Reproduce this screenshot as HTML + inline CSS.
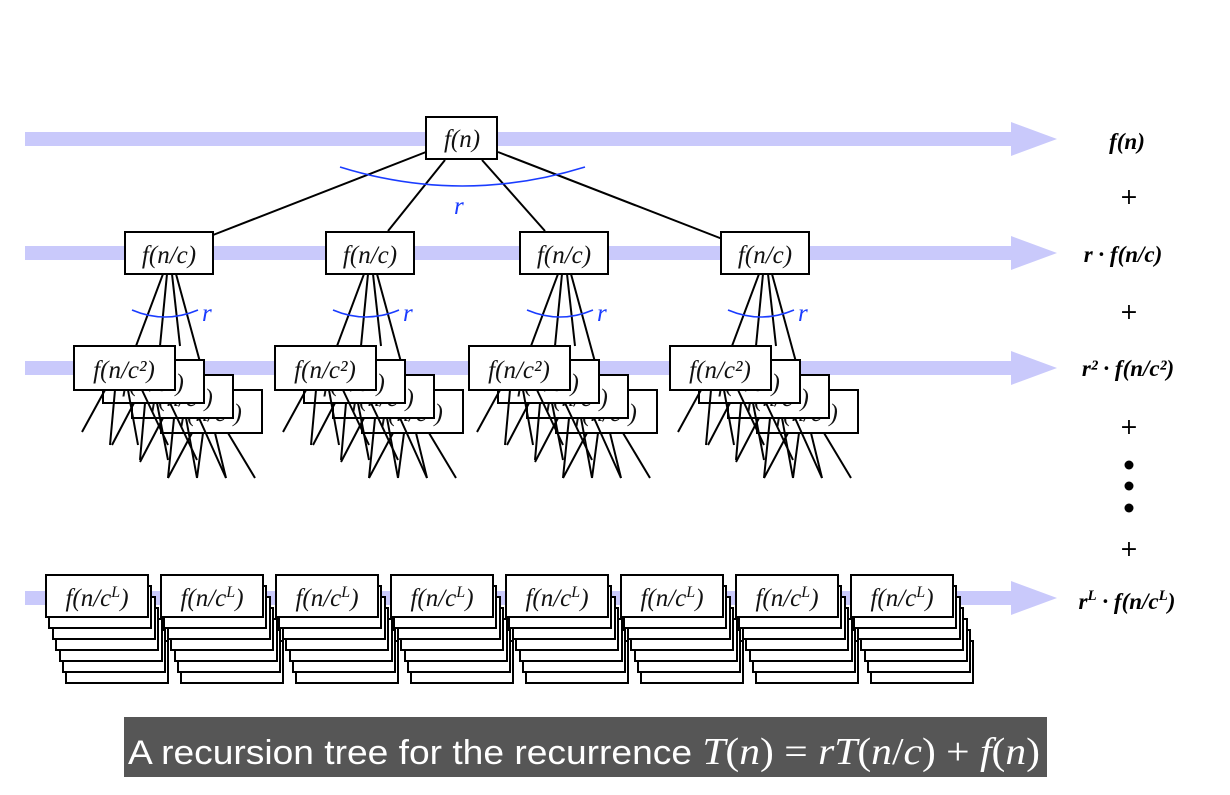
<!DOCTYPE html>
<html><head><meta charset="utf-8"><style>
html,body{margin:0;padding:0;background:#fff}
svg{display:block}
.t{font-family:"Liberation Serif",serif;font-style:italic;font-size:25px;fill:#111}
.rl{font-family:"Liberation Serif",serif;font-style:italic;font-weight:bold;font-size:23px;fill:#000}
.pl{font-family:"DejaVu Sans",sans-serif;font-size:22px;fill:#000}
.b{fill:#fff;stroke:#000;stroke-width:2}
.l{stroke:#000;stroke-width:2}
.bl{fill:#1a3cff;font-family:"Liberation Serif",serif;font-style:italic;font-size:25px}
</style></head><body>
<svg width="1230" height="795" viewBox="0 0 1230 795" xmlns="http://www.w3.org/2000/svg">
<defs>
<g id="arr"><rect x="25" y="-7" width="987" height="14" fill="#c9c9fb"/><polygon points="1011,-17 1057,0 1011,17" fill="#c9c9fb"/></g>
</defs>
<use href="#arr" y="139"/><use href="#arr" y="253"/><use href="#arr" y="368"/><use href="#arr" y="598"/>

<!-- root -->
<g class="l"><line x1="426" y1="152" x2="213" y2="235"/><line x1="445" y1="160" x2="388" y2="231"/><line x1="482" y1="160" x2="545" y2="231"/><line x1="498" y1="152" x2="725" y2="240"/></g>
<path d="M340,167 Q462,205 585,167" fill="none" stroke="#1a3cff" stroke-width="1.6"/>
<text class="bl" x="454" y="214">r</text>
<rect class="b" x="426" y="117" width="71" height="42"/>
<text class="t" x="462" y="147" text-anchor="middle">f(n)</text>

<!-- subtrees -->
<g>
<g class="l"><line x1="163" y1="274" x2="136" y2="346"/><line x1="167" y1="274" x2="160" y2="346"/><line x1="172" y1="274" x2="180" y2="346"/><line x1="176" y1="274" x2="200" y2="362"/></g>
<path d="M132,310 Q165,324 198,310" fill="none" stroke="#1a3cff" stroke-width="1.6"/>
<text class="bl" x="202" y="321">r</text>
<rect class="b" x="125" y="232" width="88" height="42"/>
<text class="t" x="169" y="263" text-anchor="middle">f(n/c)</text>
<rect class="b" x="161" y="390" width="101" height="43"/><text class="t" x="211" y="421" text-anchor="middle">f(n/c²)</text>
<rect class="b" x="132" y="375" width="101" height="43"/><text class="t" x="182" y="406" text-anchor="middle">f(n/c²)</text>
<rect class="b" x="103" y="360" width="101" height="43"/><text class="t" x="153" y="391" text-anchor="middle">f(n/c²)</text>
<rect class="b" x="74" y="346" width="101" height="44"/><text class="t" x="124" y="378" text-anchor="middle">f(n/c²)</text>
<g class="l">
<line x1="105" y1="390" x2="82" y2="432"/><line x1="115" y1="390" x2="110" y2="445"/><line x1="128" y1="390" x2="138" y2="445"/><line x1="142" y1="390" x2="168" y2="445"/>
<line x1="134" y1="403" x2="112" y2="445"/><line x1="145" y1="403" x2="140" y2="460"/><line x1="157" y1="403" x2="168" y2="460"/><line x1="170" y1="403" x2="197" y2="460"/>
<line x1="163" y1="418" x2="140" y2="462"/><line x1="174" y1="418" x2="168" y2="478"/><line x1="186" y1="418" x2="197" y2="478"/><line x1="199" y1="418" x2="226" y2="478"/>
<line x1="192" y1="433" x2="168" y2="478"/><line x1="203" y1="433" x2="197" y2="478"/><line x1="215" y1="433" x2="226" y2="478"/><line x1="228" y1="433" x2="255" y2="478"/>
</g>
</g>
<g transform="translate(201,0)">
<g class="l"><line x1="163" y1="274" x2="136" y2="346"/><line x1="167" y1="274" x2="160" y2="346"/><line x1="172" y1="274" x2="180" y2="346"/><line x1="176" y1="274" x2="200" y2="362"/></g>
<path d="M132,310 Q165,324 198,310" fill="none" stroke="#1a3cff" stroke-width="1.6"/>
<text class="bl" x="202" y="321">r</text>
<rect class="b" x="125" y="232" width="88" height="42"/>
<text class="t" x="169" y="263" text-anchor="middle">f(n/c)</text>
<rect class="b" x="161" y="390" width="101" height="43"/><text class="t" x="211" y="421" text-anchor="middle">f(n/c²)</text>
<rect class="b" x="132" y="375" width="101" height="43"/><text class="t" x="182" y="406" text-anchor="middle">f(n/c²)</text>
<rect class="b" x="103" y="360" width="101" height="43"/><text class="t" x="153" y="391" text-anchor="middle">f(n/c²)</text>
<rect class="b" x="74" y="346" width="101" height="44"/><text class="t" x="124" y="378" text-anchor="middle">f(n/c²)</text>
<g class="l">
<line x1="105" y1="390" x2="82" y2="432"/><line x1="115" y1="390" x2="110" y2="445"/><line x1="128" y1="390" x2="138" y2="445"/><line x1="142" y1="390" x2="168" y2="445"/>
<line x1="134" y1="403" x2="112" y2="445"/><line x1="145" y1="403" x2="140" y2="460"/><line x1="157" y1="403" x2="168" y2="460"/><line x1="170" y1="403" x2="197" y2="460"/>
<line x1="163" y1="418" x2="140" y2="462"/><line x1="174" y1="418" x2="168" y2="478"/><line x1="186" y1="418" x2="197" y2="478"/><line x1="199" y1="418" x2="226" y2="478"/>
<line x1="192" y1="433" x2="168" y2="478"/><line x1="203" y1="433" x2="197" y2="478"/><line x1="215" y1="433" x2="226" y2="478"/><line x1="228" y1="433" x2="255" y2="478"/>
</g>
</g>
<g transform="translate(395,0)">
<g class="l"><line x1="163" y1="274" x2="136" y2="346"/><line x1="167" y1="274" x2="160" y2="346"/><line x1="172" y1="274" x2="180" y2="346"/><line x1="176" y1="274" x2="200" y2="362"/></g>
<path d="M132,310 Q165,324 198,310" fill="none" stroke="#1a3cff" stroke-width="1.6"/>
<text class="bl" x="202" y="321">r</text>
<rect class="b" x="125" y="232" width="88" height="42"/>
<text class="t" x="169" y="263" text-anchor="middle">f(n/c)</text>
<rect class="b" x="161" y="390" width="101" height="43"/><text class="t" x="211" y="421" text-anchor="middle">f(n/c²)</text>
<rect class="b" x="132" y="375" width="101" height="43"/><text class="t" x="182" y="406" text-anchor="middle">f(n/c²)</text>
<rect class="b" x="103" y="360" width="101" height="43"/><text class="t" x="153" y="391" text-anchor="middle">f(n/c²)</text>
<rect class="b" x="74" y="346" width="101" height="44"/><text class="t" x="124" y="378" text-anchor="middle">f(n/c²)</text>
<g class="l">
<line x1="105" y1="390" x2="82" y2="432"/><line x1="115" y1="390" x2="110" y2="445"/><line x1="128" y1="390" x2="138" y2="445"/><line x1="142" y1="390" x2="168" y2="445"/>
<line x1="134" y1="403" x2="112" y2="445"/><line x1="145" y1="403" x2="140" y2="460"/><line x1="157" y1="403" x2="168" y2="460"/><line x1="170" y1="403" x2="197" y2="460"/>
<line x1="163" y1="418" x2="140" y2="462"/><line x1="174" y1="418" x2="168" y2="478"/><line x1="186" y1="418" x2="197" y2="478"/><line x1="199" y1="418" x2="226" y2="478"/>
<line x1="192" y1="433" x2="168" y2="478"/><line x1="203" y1="433" x2="197" y2="478"/><line x1="215" y1="433" x2="226" y2="478"/><line x1="228" y1="433" x2="255" y2="478"/>
</g>
</g>
<g transform="translate(596,0)">
<g class="l"><line x1="163" y1="274" x2="136" y2="346"/><line x1="167" y1="274" x2="160" y2="346"/><line x1="172" y1="274" x2="180" y2="346"/><line x1="176" y1="274" x2="200" y2="362"/></g>
<path d="M132,310 Q165,324 198,310" fill="none" stroke="#1a3cff" stroke-width="1.6"/>
<text class="bl" x="202" y="321">r</text>
<rect class="b" x="125" y="232" width="88" height="42"/>
<text class="t" x="169" y="263" text-anchor="middle">f(n/c)</text>
<rect class="b" x="161" y="390" width="101" height="43"/><text class="t" x="211" y="421" text-anchor="middle">f(n/c²)</text>
<rect class="b" x="132" y="375" width="101" height="43"/><text class="t" x="182" y="406" text-anchor="middle">f(n/c²)</text>
<rect class="b" x="103" y="360" width="101" height="43"/><text class="t" x="153" y="391" text-anchor="middle">f(n/c²)</text>
<rect class="b" x="74" y="346" width="101" height="44"/><text class="t" x="124" y="378" text-anchor="middle">f(n/c²)</text>
<g class="l">
<line x1="105" y1="390" x2="82" y2="432"/><line x1="115" y1="390" x2="110" y2="445"/><line x1="128" y1="390" x2="138" y2="445"/><line x1="142" y1="390" x2="168" y2="445"/>
<line x1="134" y1="403" x2="112" y2="445"/><line x1="145" y1="403" x2="140" y2="460"/><line x1="157" y1="403" x2="168" y2="460"/><line x1="170" y1="403" x2="197" y2="460"/>
<line x1="163" y1="418" x2="140" y2="462"/><line x1="174" y1="418" x2="168" y2="478"/><line x1="186" y1="418" x2="197" y2="478"/><line x1="199" y1="418" x2="226" y2="478"/>
<line x1="192" y1="433" x2="168" y2="478"/><line x1="203" y1="433" x2="197" y2="478"/><line x1="215" y1="433" x2="226" y2="478"/><line x1="228" y1="433" x2="255" y2="478"/>
</g>
</g>

<!-- bottom stacks -->
<g>
<rect class="b" x="66" y="641" width="102" height="42"/><rect class="b" x="63" y="630" width="102" height="42"/><rect class="b" x="60" y="619" width="102" height="42"/><rect class="b" x="56" y="608" width="102" height="42"/><rect class="b" x="53" y="597" width="102" height="42"/><rect class="b" x="49" y="586" width="102" height="42"/><rect class="b" x="46" y="575" width="102" height="42"/>
<text class="t" x="97" y="606" text-anchor="middle">f(n/c<tspan dy="-9" font-size="16">L</tspan><tspan dy="9">)</tspan></text>
</g>
<g transform="translate(115,0)"><rect class="b" x="66" y="641" width="102" height="42"/><rect class="b" x="63" y="630" width="102" height="42"/><rect class="b" x="60" y="619" width="102" height="42"/><rect class="b" x="56" y="608" width="102" height="42"/><rect class="b" x="53" y="597" width="102" height="42"/><rect class="b" x="49" y="586" width="102" height="42"/><rect class="b" x="46" y="575" width="102" height="42"/><text class="t" x="97" y="606" text-anchor="middle">f(n/c<tspan dy="-9" font-size="16">L</tspan><tspan dy="9">)</tspan></text></g>
<g transform="translate(230,0)"><rect class="b" x="66" y="641" width="102" height="42"/><rect class="b" x="63" y="630" width="102" height="42"/><rect class="b" x="60" y="619" width="102" height="42"/><rect class="b" x="56" y="608" width="102" height="42"/><rect class="b" x="53" y="597" width="102" height="42"/><rect class="b" x="49" y="586" width="102" height="42"/><rect class="b" x="46" y="575" width="102" height="42"/><text class="t" x="97" y="606" text-anchor="middle">f(n/c<tspan dy="-9" font-size="16">L</tspan><tspan dy="9">)</tspan></text></g>
<g transform="translate(345,0)"><rect class="b" x="66" y="641" width="102" height="42"/><rect class="b" x="63" y="630" width="102" height="42"/><rect class="b" x="60" y="619" width="102" height="42"/><rect class="b" x="56" y="608" width="102" height="42"/><rect class="b" x="53" y="597" width="102" height="42"/><rect class="b" x="49" y="586" width="102" height="42"/><rect class="b" x="46" y="575" width="102" height="42"/><text class="t" x="97" y="606" text-anchor="middle">f(n/c<tspan dy="-9" font-size="16">L</tspan><tspan dy="9">)</tspan></text></g>
<g transform="translate(460,0)"><rect class="b" x="66" y="641" width="102" height="42"/><rect class="b" x="63" y="630" width="102" height="42"/><rect class="b" x="60" y="619" width="102" height="42"/><rect class="b" x="56" y="608" width="102" height="42"/><rect class="b" x="53" y="597" width="102" height="42"/><rect class="b" x="49" y="586" width="102" height="42"/><rect class="b" x="46" y="575" width="102" height="42"/><text class="t" x="97" y="606" text-anchor="middle">f(n/c<tspan dy="-9" font-size="16">L</tspan><tspan dy="9">)</tspan></text></g>
<g transform="translate(575,0)"><rect class="b" x="66" y="641" width="102" height="42"/><rect class="b" x="63" y="630" width="102" height="42"/><rect class="b" x="60" y="619" width="102" height="42"/><rect class="b" x="56" y="608" width="102" height="42"/><rect class="b" x="53" y="597" width="102" height="42"/><rect class="b" x="49" y="586" width="102" height="42"/><rect class="b" x="46" y="575" width="102" height="42"/><text class="t" x="97" y="606" text-anchor="middle">f(n/c<tspan dy="-9" font-size="16">L</tspan><tspan dy="9">)</tspan></text></g>
<g transform="translate(690,0)"><rect class="b" x="66" y="641" width="102" height="42"/><rect class="b" x="63" y="630" width="102" height="42"/><rect class="b" x="60" y="619" width="102" height="42"/><rect class="b" x="56" y="608" width="102" height="42"/><rect class="b" x="53" y="597" width="102" height="42"/><rect class="b" x="49" y="586" width="102" height="42"/><rect class="b" x="46" y="575" width="102" height="42"/><text class="t" x="97" y="606" text-anchor="middle">f(n/c<tspan dy="-9" font-size="16">L</tspan><tspan dy="9">)</tspan></text></g>
<g transform="translate(805,0)"><rect class="b" x="66" y="641" width="102" height="42"/><rect class="b" x="63" y="630" width="102" height="42"/><rect class="b" x="60" y="619" width="102" height="42"/><rect class="b" x="56" y="608" width="102" height="42"/><rect class="b" x="53" y="597" width="102" height="42"/><rect class="b" x="49" y="586" width="102" height="42"/><rect class="b" x="46" y="575" width="102" height="42"/><text class="t" x="97" y="606" text-anchor="middle">f(n/c<tspan dy="-9" font-size="16">L</tspan><tspan dy="9">)</tspan></text></g>

<!-- right labels -->
<text class="rl" x="1127" y="149" text-anchor="middle">f(n)</text>
<text class="pl" x="1129" y="204" text-anchor="middle">+</text>
<text class="rl" x="1123" y="262" text-anchor="middle">r · f(n/c)</text>
<text class="pl" x="1129" y="319" text-anchor="middle">+</text>
<text class="rl" x="1128" y="376" text-anchor="middle">r² · f(n/c²)</text>
<text class="pl" x="1129" y="434" text-anchor="middle">+</text>
<circle cx="1129" cy="465" r="4.5"/><circle cx="1129" cy="486" r="4.5"/><circle cx="1129" cy="508" r="4.5"/>
<text class="pl" x="1129" y="556" text-anchor="middle">+</text>
<text class="rl" x="1127" y="609" text-anchor="middle">r<tspan dy="-9" font-size="15">L</tspan><tspan dy="9"> · f(n/c</tspan><tspan dy="-9" font-size="15">L</tspan><tspan dy="9">)</tspan></text>

<!-- caption -->
<rect x="124" y="717" width="923" height="60" fill="#565656"/>
<text x="128" y="764" fill="#fff" font-family="Liberation Sans, sans-serif" font-size="34" textLength="912" lengthAdjust="spacingAndGlyphs">A recursion tree for the recurrence <tspan font-family="Liberation Serif, serif" font-style="italic" font-size="38">T</tspan><tspan font-family="Liberation Serif, serif" font-size="38">(</tspan><tspan font-family="Liberation Serif, serif" font-style="italic" font-size="38">n</tspan><tspan font-family="Liberation Serif, serif" font-size="38">) = </tspan><tspan font-family="Liberation Serif, serif" font-style="italic" font-size="38">rT</tspan><tspan font-family="Liberation Serif, serif" font-size="38">(</tspan><tspan font-family="Liberation Serif, serif" font-style="italic" font-size="38">n</tspan><tspan font-family="Liberation Serif, serif" font-size="38">/</tspan><tspan font-family="Liberation Serif, serif" font-style="italic" font-size="38">c</tspan><tspan font-family="Liberation Serif, serif" font-size="38">) + </tspan><tspan font-family="Liberation Serif, serif" font-style="italic" font-size="38">f</tspan><tspan font-family="Liberation Serif, serif" font-size="38">(</tspan><tspan font-family="Liberation Serif, serif" font-style="italic" font-size="38">n</tspan><tspan font-family="Liberation Serif, serif" font-size="38">)</tspan></text>
</svg>
</body></html>
